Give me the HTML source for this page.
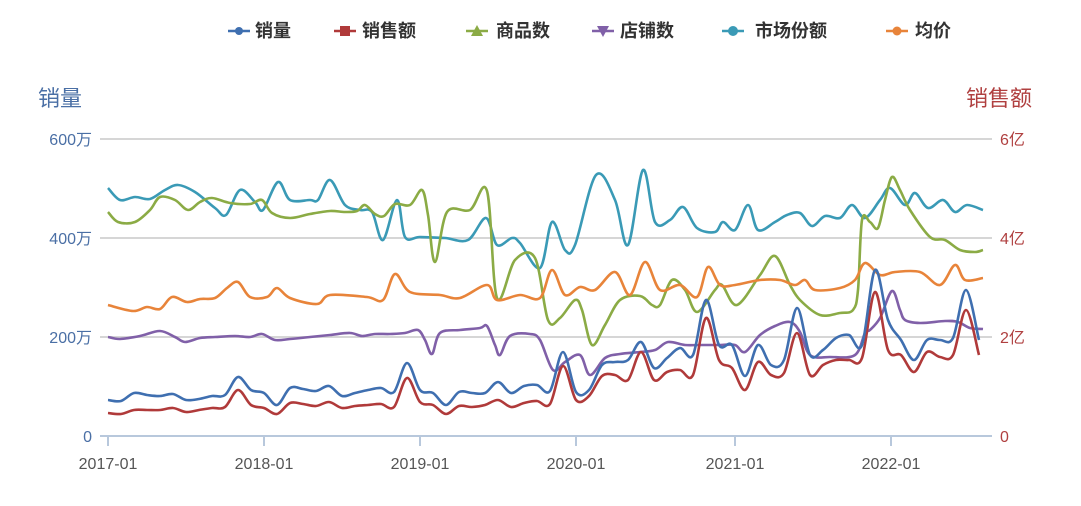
<!DOCTYPE html>
<html><head><meta charset="utf-8"><style>
body{margin:0;background:#fff;width:1081px;height:501px;overflow:hidden}
svg{font-family:"Liberation Sans","Noto Sans CJK SC",sans-serif}
</style></head><body>
<svg id="s" width="1081" height="501" xmlns="http://www.w3.org/2000/svg">
<g stroke="#d6d6d6" stroke-width="2">
<line x1="100" y1="139" x2="992" y2="139"/><line x1="100" y1="238" x2="992" y2="238"/><line x1="100" y1="337" x2="992" y2="337"/>
</g>
<line x1="100" y1="436" x2="992" y2="436" stroke="#b8c8dc" stroke-width="2"/>
<g stroke="#b8c8dc" stroke-width="2">
<line x1="108" y1="436" x2="108" y2="446"/><line x1="264" y1="436" x2="264" y2="446"/><line x1="420" y1="436" x2="420" y2="446"/><line x1="576" y1="436" x2="576" y2="446"/><line x1="735" y1="436" x2="735" y2="446"/><line x1="891" y1="436" x2="891" y2="446"/>
</g>
<g fill="#555" font-size="16" text-anchor="middle">
<text x="108" y="469">2017-01</text><text x="264" y="469">2018-01</text><text x="420" y="469">2019-01</text><text x="576" y="469">2020-01</text><text x="735" y="469">2021-01</text><text x="891" y="469">2022-01</text>
</g>
<g fill="#4a6fa5" font-size="16" text-anchor="end">
<text x="92" y="145">600万</text><text x="92" y="244">400万</text><text x="92" y="343">200万</text><text x="92" y="442">0</text>
</g>
<g fill="#b04040" font-size="16">
<text x="1000" y="145">6亿</text><text x="1000" y="244">4亿</text><text x="1000" y="343">2亿</text><text x="1000" y="442">0</text>
</g>
<text x="38" y="106" fill="#4a6fa5" font-size="22">销量</text>
<text x="966" y="106" fill="#b04040" font-size="22">销售额</text>
<g font-size="18" fill="#333" font-weight="bold">
<line x1="228" y1="31" x2="250" y2="31" stroke="#3f6fb0" stroke-width="2.5"/><circle cx="239" cy="31" r="4" fill="#3f6fb0"/><text x="255" y="37">销量</text>
<line x1="334" y1="31" x2="356" y2="31" stroke="#b03a3a" stroke-width="2.5"/><rect x="340" y="26" width="10" height="10" fill="#b03a3a"/><text x="362" y="37">销售额</text>
<line x1="466" y1="31" x2="488" y2="31" stroke="#8bab45" stroke-width="2.5"/><polygon points="477,25 483,36 471,36" fill="#8bab45"/><text x="496" y="37">商品数</text>
<line x1="592" y1="31" x2="614" y2="31" stroke="#8060a8" stroke-width="2.5"/><polygon points="597,26 609,26 603,37" fill="#8060a8"/><text x="620" y="37">店铺数</text>
<line x1="722" y1="31" x2="744" y2="31" stroke="#3a9ab6" stroke-width="2.5"/><circle cx="733" cy="31" r="5" fill="#3a9ab6"/><text x="755" y="37">市场份额</text>
<line x1="886" y1="31" x2="908" y2="31" stroke="#e8843a" stroke-width="2.5"/><circle cx="897" cy="31" r="4.5" fill="#e8843a"/><text x="915" y="37">均价</text>
</g>
<g id="lines" fill="none" stroke-width="2.6" stroke-linejoin="round"></g>
</svg>
<script>
function mon(a){return a.map((y,i)=>[108+13*i,y]);}
var S={
"#3a9ab6":[[108,188],[120,200],[135,197],[150,199],[165,190],[178,185],[195,192],[215,208],[226,215],[240,190],[255,202],[263,210],[278,182],[290,200],[310,200],[318,200],[330,180],[345,205],[360,210],[372,212],[383,240],[397,200],[405,237],[420,237],[445,238],[468,240],[486,218],[497,245],[512,238],[520,243],[540,268],[552,222],[565,250],[575,245],[596,175],[615,200],[628,245],[643,170],[655,222],[670,220],[683,207],[697,228],[715,232],[723,222],[735,230],[748,205],[758,230],[775,222],[787,215],[800,213],[812,226],[825,216],[840,218],[852,205],[865,218],[880,200],[890,188],[905,205],[915,193],[928,208],[943,200],[955,212],[967,205],[983,210]],
"#8bab45":[[108,212],[118,222],[135,222],[150,210],[160,197],[175,200],[188,210],[200,202],[212,198],[230,203],[250,204],[262,200],[272,213],[290,218],[310,214],[330,211],[345,212],[357,211],[365,205],[375,214],[384,216],[395,204],[410,205],[422,190],[428,215],[435,262],[447,212],[470,210],[487,191],[497,298],[515,260],[535,258],[548,320],[560,318],[575,300],[582,310],[592,345],[605,325],[620,300],[640,296],[652,305],[660,305],[672,280],[685,290],[697,312],[715,290],[722,285],[737,305],[760,275],[775,256],[790,285],[800,300],[820,315],[840,313],[853,310],[858,290],[862,220],[870,222],[878,228],[885,200],[892,177],[900,190],[910,210],[930,237],[945,240],[960,250],[975,252],[983,250]],
"#e8843a":[[108,305],[133,311],[147,307],[160,309],[172,297],[187,302],[200,299],[215,298],[227,288],[238,282],[250,297],[267,297],[277,288],[290,298],[317,304],[330,295],[367,297],[383,300],[395,274],[410,292],[440,295],[460,298],[487,285],[497,300],[520,295],[540,298],[552,270],[565,295],[580,287],[595,290],[615,272],[630,295],[645,262],[660,290],[680,285],[697,297],[708,267],[720,285],[735,285],[760,280],[780,280],[795,285],[805,280],[815,290],[840,288],[855,280],[865,263],[880,275],[895,272],[920,272],[940,285],[955,265],[965,280],[983,278]],
"#8060a8":[[108,337],[120,339],[140,336],[160,331],[175,337],[185,342],[200,338],[215,337],[235,336],[250,337],[262,334],[275,340],[290,339],[310,337],[330,335],[350,333],[362,336],[375,334],[390,334],[405,333],[418,330],[425,340],[432,354],[440,333],[460,330],[480,328],[487,326],[495,345],[500,355],[510,336],[530,334],[540,340],[553,370],[565,362],[580,355],[590,375],[605,358],[620,354],[640,352],[655,350],[668,342],[685,345],[700,345],[720,345],[735,345],[745,352],[760,335],[775,326],[790,322],[800,332],[810,355],[830,357],[855,355],[865,333],[870,330],[880,318],[892,291],[900,310],[905,320],[920,323],[945,321],[958,322],[970,328],[983,329]],
"#b03a3a":mon([413,414,410,410,410,408,412,410,408,407,390,405,408,414,403,404,406,402,408,406,405,404,407,378,402,405,414,406,407,405,400,407,403,401,404,366,400,396,376,375,380,352,380,372,370,375,318,360,368,390,362,375,373,333,375,365,360,360,358,292,350,355,372,352,357,355,310,355]),
"#3f6fb0":mon([400,401,393,395,396,394,400,399,396,395,377,390,393,405,388,389,391,386,396,393,390,388,392,363,390,393,405,392,393,393,382,393,386,385,391,352,392,390,365,362,360,342,368,358,348,355,300,345,345,376,345,365,360,308,355,350,338,335,345,270,320,340,360,340,340,338,290,340])
};
function path(p){var d="M"+p[0][0]+","+p[0][1];for(var i=0;i<p.length-1;i++){var a=p[Math.max(0,i-1)],b=p[i],c=p[i+1],e=p[Math.min(p.length-1,i+2)];
var c1=[b[0]+(c[0]-a[0])/6,b[1]+(c[1]-a[1])/6],c2=[c[0]-(e[0]-b[0])/6,c[1]-(e[1]-b[1])/6];
d+="C"+c1[0].toFixed(1)+","+c1[1].toFixed(1)+" "+c2[0].toFixed(1)+","+c2[1].toFixed(1)+" "+c[0]+","+c[1];}return d;}
var g=document.getElementById("lines"),h="";
for(var k in S){h+='<path d="'+path(S[k])+'" stroke="'+k+'"/>';}
g.innerHTML=h;
</script>
</body></html>
